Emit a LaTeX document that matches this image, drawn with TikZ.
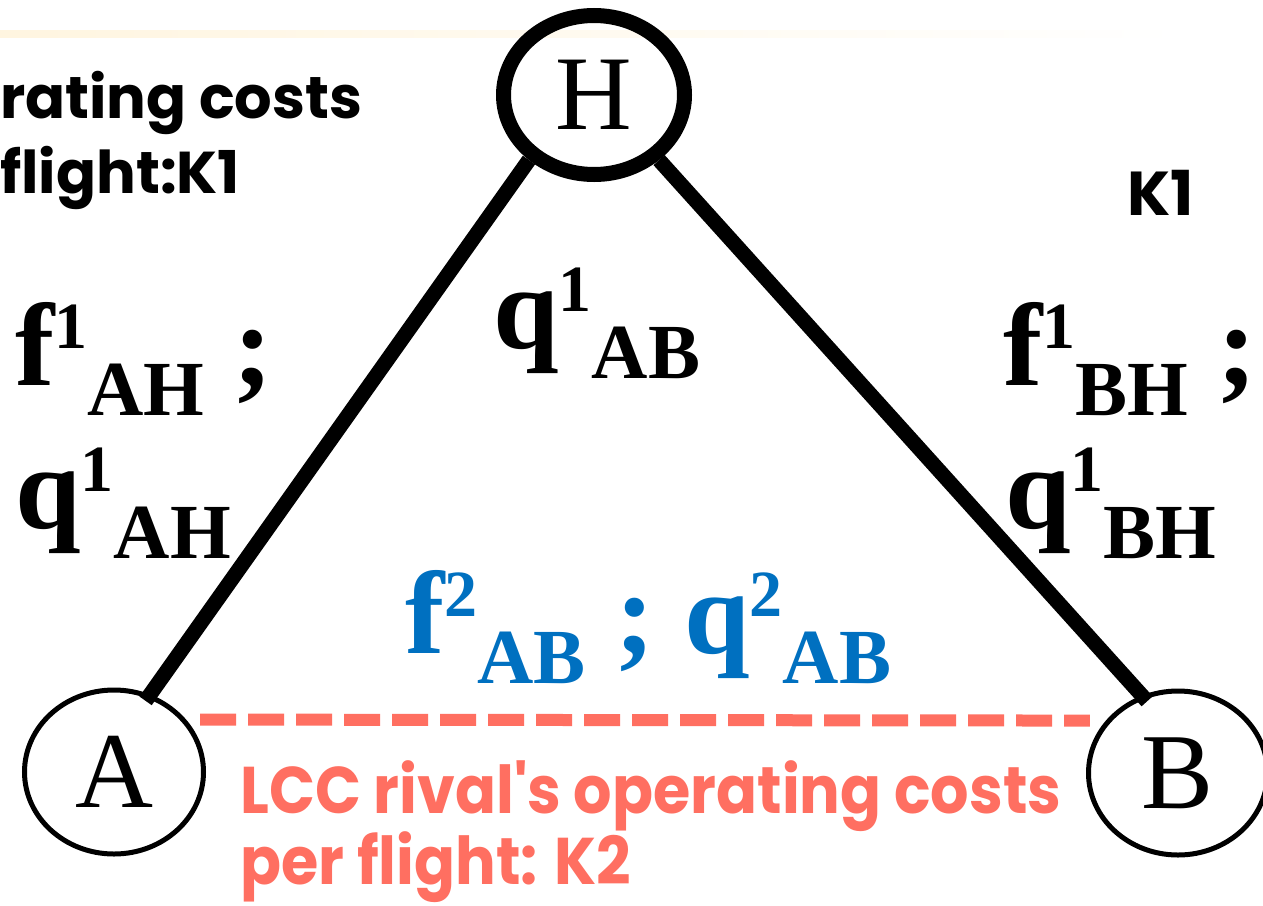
\documentclass[tikz,border=0pt]{standalone}
\usepackage{fontspec}
\setmainfont{Liberation Serif}
\newfontfamily\comicfont{Poppins}
\newfontfamily\lccfont[FakeStretch=0.915]{Poppins}
\usepackage{tikz}
\usetikzlibrary{shapes.geometric}
\definecolor{RivalSalmon}{HTML}{FF6F61}
\definecolor{LegBlue}{HTML}{0070C0}
\definecolor{BandCream}{HTML}{FFF5E0}

% variable with superscript, then subscript after it
\newcommand{\legvar}[3]{#1\raisebox{37pt}{\fontsize{66}{66}\selectfont #2}\raisebox{-30pt}{\fontsize{78}{78}\selectfont #3}}

\begin{document}
\begin{tikzpicture}[
  x=1pt,y=1pt,
  airport/.style={draw,ellipse,inner sep=0pt,line width=5pt,minimum width=179pt,minimum height=164pt,font=\fontsize{108}{108}\selectfont},
  hub/.style={airport,line width=15pt,minimum width=181pt,minimum height=159pt,font=\fontsize{106}{106}\selectfont},
  leg/.style={draw,line width=15pt},
  rivalleg/.style={draw=RivalSalmon,line width=12pt,dash pattern=on 36pt off 12pt},
  legtext/.style={anchor=base west,inner sep=0pt,font=\fontsize{118}{118}\selectfont\bfseries},
  rivallabel/.style={legtext,text=LegBlue},
  costtext/.style={anchor=base west,inner sep=0pt,font=\fontsize{59}{59}\selectfont\comicfont\bfseries},
  lcctext/.style={anchor=base west,inner sep=0pt,text=RivalSalmon,font=\fontsize{66}{66}\selectfont\lccfont\bfseries}
]
\fill[white] (0,0) rectangle (1263,-905);
\clip (0,0) rectangle (1263,-905);
\shade[left color=BandCream,right color=white] (0,-30) rectangle (1180,-37);

\node[hub] (H) at (594,-95) {H};
\node[airport] (A) at (114,-772) {A};
\node[airport] (B) at (1178,-773) {B};

\draw[leg,shorten >=-8pt] (H.225) -- (A.65);
\draw[leg,shorten >=-8pt] (H.315) -- (B.115);
\draw[rivalleg,shorten <=14pt,shorten >=16pt] (A.36) -- (B.144);

\node[legtext] (fAH) at (15,-385) {\legvar{f}{1}{AH} ;};
\node[legtext] (qAH) at (15,-528) {\legvar{q}{1}{AH}};
\node[legtext] (qAB) at (493,-348) {\legvar{q}{1}{AB}};
\node[legtext] (fBH) at (1003,-385) {\legvar{f}{1}{BH} ;};
\node[legtext] (qBH) at (1005,-528) {\legvar{q}{1}{BH}};
\node[rivallabel] (rivalAB) at (405,-653) {\legvar{f}{2}{AB} ; \legvar{q}{2}{AB}};

\node[costtext] (hubcost1) at (0,-118) {rating costs};
\node[costtext] (hubcost2) at (0,-193) {flight:K1};
\node[costtext,font=\fontsize{62}{62}\selectfont\comicfont\bfseries] (hubK) at (1127,-215) {K1};
\node[lcctext] (lcc1) at (240,-813) {LCC rival's operating costs};
\node[lcctext] (lcc2) at (240,-884) {per flight: K2};
\end{tikzpicture}
\end{document}
